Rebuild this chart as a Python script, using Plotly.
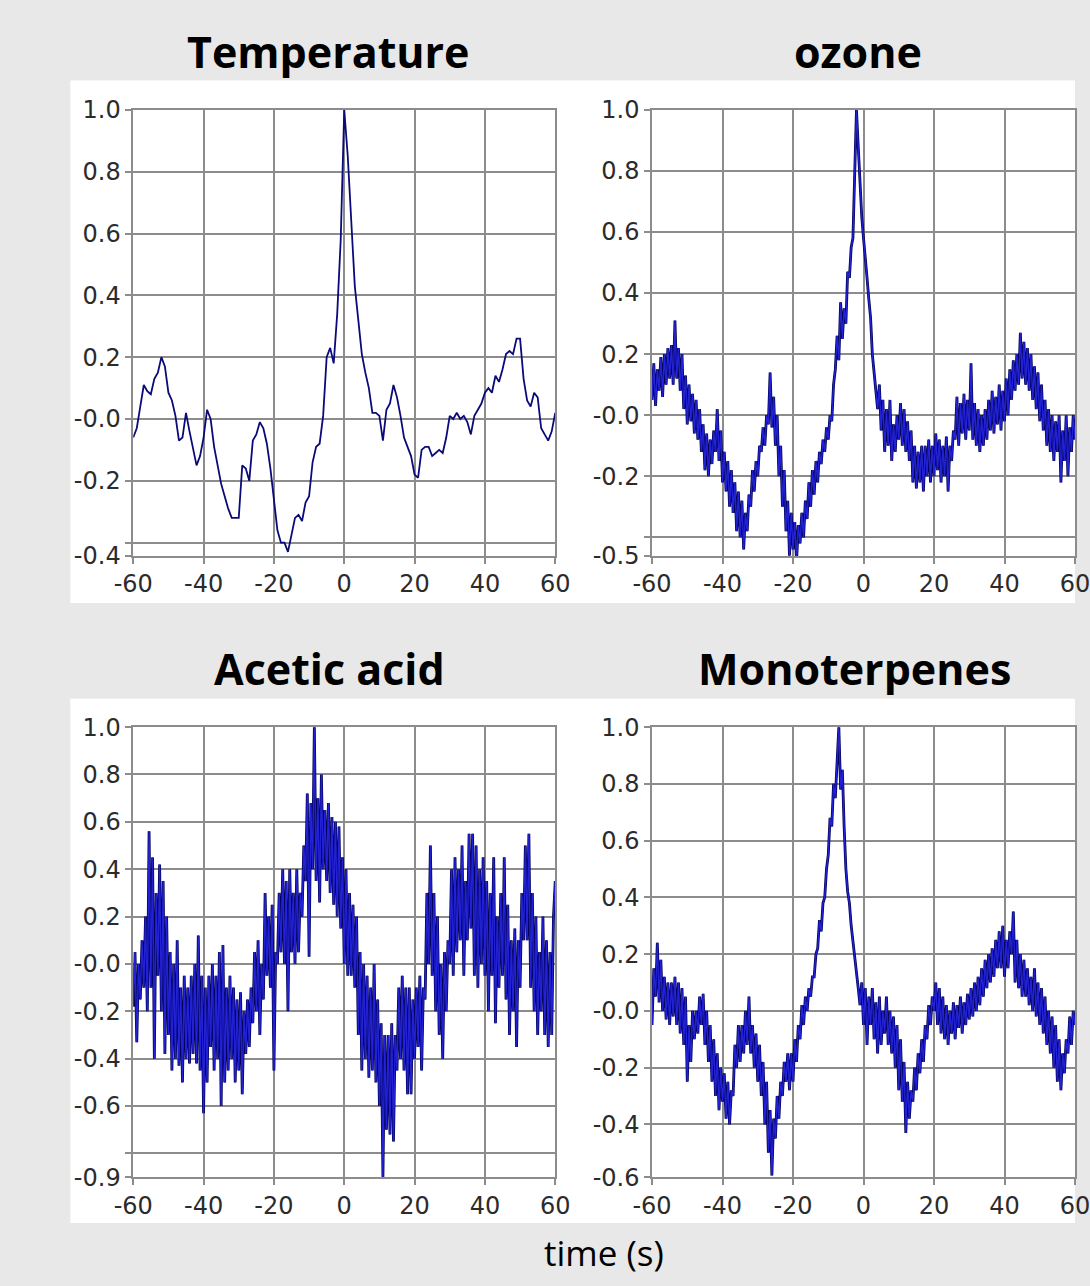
import plotly.graph_objects as go

# ---------------- data ----------------
panel_titles = ["Temperature", "ozone", "Acetic acid", "Monoterpenes"]
x_title = "time (s)"
x_tickvals = [-60, -40, -20, 0, 20, 40, 60]
x_ticktext = ["-60", "-40", "-20", "0", "20", "40", "60"]

# Temperature: one value per second, lag -60 .. 60 s
temperature = [
    -0.06, -0.03, 0.04, 0.11, 0.09, 0.08, 0.13, 0.15, 0.20, 0.17,
    0.085, 0.06, 0.01, -0.07, -0.06, 0.02, -0.04, -0.10, -0.15, -0.12,
    -0.06, 0.03, 0.00, -0.09, -0.15, -0.21, -0.25, -0.29, -0.32, -0.32,
    -0.32, -0.15, -0.16, -0.20, -0.07, -0.05, -0.01, -0.03, -0.08, -0.16,
    -0.27, -0.36, -0.40, -0.40, -0.43, -0.38, -0.32, -0.31, -0.33, -0.27,
    -0.25, -0.14, -0.09, -0.08, 0.01, 0.20, 0.23, 0.18, 0.34, 0.58,
    1.00, 0.85, 0.62, 0.43, 0.32, 0.21, 0.15, 0.10, 0.02, 0.02,
    0.01, -0.07, 0.03, 0.05, 0.11, 0.07, 0.01, -0.06, -0.09, -0.12,
    -0.18, -0.19, -0.10, -0.09, -0.09, -0.12, -0.11, -0.10, -0.11, -0.06,
    0.01, 0.00, 0.02, 0.00, 0.01, -0.01, -0.05, 0.01, 0.03, 0.05,
    0.085, 0.10, 0.085, 0.14, 0.12, 0.16, 0.21, 0.22, 0.21, 0.26,
    0.26, 0.13, 0.06, 0.04, 0.085, 0.07, -0.03, -0.05, -0.07, -0.04,
    0.02,
]

# Ozone: one value per 0.5 s, lag -60 .. 60 s
ozone = [
    0.05, 0.17, 0.03, 0.15, 0.08, 0.19, 0.06, 0.20, 0.10, 0.22,
    0.12, 0.23, 0.10, 0.31, 0.12, 0.22, 0.08, 0.20, 0.02, 0.13,
    -0.03, 0.10, -0.02, 0.07, -0.06, 0.05, -0.08, 0.02, -0.12, -0.03,
    -0.18, -0.06, -0.20, -0.08, -0.16, -0.05, -0.12, 0.02, -0.15, -0.05,
    -0.22, -0.12, -0.25, -0.15, -0.30, -0.18, -0.32, -0.22, -0.38, -0.25,
    -0.40, -0.28, -0.44, -0.32, -0.38, -0.26, -0.30, -0.18, -0.25, -0.15,
    -0.20, -0.10, -0.12, -0.04, -0.10, 0.00, -0.03, 0.14, -0.04, 0.06,
    -0.10, 0.00, -0.20, -0.10, -0.30, -0.18, -0.38, -0.28, -0.46, -0.32,
    -0.44, -0.35, -0.48, -0.36, -0.42, -0.32, -0.40, -0.28, -0.34, -0.22,
    -0.30, -0.18, -0.26, -0.15, -0.22, -0.12, -0.16, -0.08, -0.12, -0.04,
    -0.08, 0.00, -0.02, 0.10, 0.15, 0.26, 0.18, 0.37, 0.25, 0.35,
    0.30, 0.47, 0.45, 0.55, 0.58, 0.82, 1.00, 0.88, 0.75, 0.65,
    0.58, 0.50, 0.45, 0.38, 0.32, 0.20, 0.15, 0.08, 0.02, 0.10,
    -0.05, 0.05, -0.12, 0.02, -0.10, 0.05, -0.15, -0.03, -0.12, 0.00,
    -0.08, 0.04, -0.10, 0.02, -0.12, -0.02, -0.15, -0.05, -0.22, -0.10,
    -0.24, -0.12, -0.22, -0.10, -0.25, -0.10, -0.20, -0.08, -0.22, -0.10,
    -0.20, -0.06, -0.18, -0.08, -0.22, -0.10, -0.20, -0.07, -0.25, -0.10,
    -0.15, -0.05, -0.08, 0.06, -0.10, 0.04, -0.06, 0.07, -0.08, 0.05,
    -0.05, 0.17, -0.08, 0.04, -0.10, 0.02, -0.12, 0.00, -0.10, 0.02,
    -0.08, 0.05, -0.05, 0.08, -0.06, 0.06, -0.03, 0.10, -0.05, 0.08,
    -0.02, 0.12, 0.00, 0.15, 0.05, 0.18, 0.08, 0.20, 0.10, 0.27,
    0.12, 0.24, 0.10, 0.22, 0.08, 0.20, 0.05, 0.16, 0.02, 0.14,
    -0.02, 0.10, -0.05, 0.05, -0.10, 0.02, -0.12, 0.00, -0.15, -0.02,
    -0.12, 0.00, -0.22, -0.05, -0.15, 0.00, -0.20, -0.04, -0.12, 0.00,
    -0.08,
]

# Acetic acid: one value per 0.5 s, lag -60 .. 60 s
acetic_acid = [
    -0.18, 0.05, -0.33, 0.00, -0.15, 0.10, -0.10, 0.20, -0.20, 0.56,
    -0.10, 0.45, -0.40, 0.30, -0.05, 0.42, -0.20, 0.35, -0.38, 0.20,
    -0.30, 0.05, -0.45, 0.00, -0.40, 0.10, -0.43, -0.10, -0.50, -0.05,
    -0.40, -0.10, -0.42, -0.05, -0.38, 0.00, -0.42, 0.12, -0.45, -0.05,
    -0.63, -0.10, -0.50, -0.05, -0.35, 0.00, -0.45, -0.05, -0.40, 0.05,
    -0.60, 0.08, -0.50, -0.10, -0.45, -0.05, -0.40, -0.10, -0.50, -0.15,
    -0.45, -0.12, -0.55, -0.20, -0.38, -0.15, -0.35, -0.10, -0.25, 0.05,
    -0.20, 0.10, -0.30, 0.00, -0.15, 0.30, -0.05, 0.20, -0.10, 0.25,
    -0.45, 0.05, 0.00, 0.30, 0.05, 0.40, 0.00, 0.35, -0.20, 0.40,
    0.05, 0.30, 0.00, 0.40, 0.05, 0.30, 0.20, 0.50, 0.35, 0.72,
    0.03, 0.68, 0.40, 1.00, 0.35, 0.70, 0.26, 0.80, 0.40, 0.65,
    0.35, 0.68, 0.30, 0.62, 0.25, 0.60, 0.20, 0.58, 0.15, 0.45,
    0.00, 0.40, -0.05, 0.30, -0.05, 0.25, -0.10, 0.20, -0.30, 0.05,
    -0.45, 0.00, -0.40, -0.05, -0.48, -0.10, -0.45, 0.00, -0.50, -0.15,
    -0.60, -0.25, -0.90, -0.30, -0.70, -0.30, -0.72, -0.25, -0.75, -0.30,
    -0.45, -0.10, -0.40, -0.05, -0.45, -0.10, -0.55, -0.10, -0.55, -0.15,
    -0.40, -0.10, -0.35, -0.05, -0.45, -0.10, -0.15, 0.30, 0.00, 0.50,
    -0.05, 0.30, -0.20, 0.20, -0.30, 0.00, -0.40, 0.05, -0.20, 0.10,
    0.00, 0.40, -0.05, 0.45, 0.05, 0.40, 0.10, 0.50, -0.05, 0.35,
    0.10, 0.55, 0.15, 0.55, -0.05, 0.50, -0.10, 0.40, 0.00, 0.45,
    -0.05, 0.35, -0.20, 0.30, -0.05, 0.45, -0.25, 0.20, -0.10, 0.30,
    -0.05, 0.45, -0.15, 0.25, -0.30, 0.10, -0.20, 0.15, -0.35, 0.10,
    -0.10, 0.30, 0.10, 0.50, 0.10, 0.55, -0.10, 0.30, -0.20, 0.20,
    -0.30, 0.05, -0.20, 0.20, -0.30, 0.10, -0.35, 0.05, -0.30, 0.20,
    0.35,
]

# Monoterpenes: one value per 0.5 s, lag -60 .. 60 s
monoterpenes = [
    -0.05, 0.15, 0.05, 0.24, 0.03, 0.18, 0.00, 0.12, -0.03, 0.10,
    -0.05, 0.10, -0.02, 0.12, -0.05, 0.10, -0.08, 0.08, -0.12, 0.05,
    -0.25, -0.05, -0.18, 0.00, -0.10, 0.00, -0.08, 0.05, -0.05, 0.06,
    -0.12, 0.00, -0.18, -0.05, -0.25, -0.10, -0.30, -0.15, -0.35, -0.20,
    -0.32, -0.22, -0.38, -0.25, -0.40, -0.28, -0.30, -0.12, -0.20, -0.05,
    -0.18, -0.05, -0.15, 0.00, -0.12, 0.05, -0.15, -0.05, -0.20, -0.08,
    -0.25, -0.12, -0.30, -0.18, -0.40, -0.25, -0.50, -0.35, -0.58, -0.38,
    -0.45, -0.30, -0.38, -0.25, -0.30, -0.18, -0.25, -0.15, -0.28, -0.15,
    -0.25, -0.10, -0.18, -0.05, -0.10, 0.02, -0.05, 0.05, 0.00, 0.08,
    0.05, 0.12, 0.12, 0.20, 0.22, 0.32, 0.28, 0.38, 0.40, 0.50,
    0.55, 0.68, 0.65, 0.80, 0.75, 0.90, 1.00, 0.78, 0.85, 0.65,
    0.50, 0.42, 0.38, 0.30, 0.25, 0.20, 0.15, 0.08, 0.02, 0.10,
    -0.05, 0.08, -0.12, 0.05, -0.05, 0.08, -0.10, 0.03, -0.15, 0.05,
    -0.12, 0.00, -0.08, 0.05, -0.12, 0.00, -0.15, -0.02, -0.20, -0.05,
    -0.28, -0.10, -0.32, -0.18, -0.43, -0.25, -0.38, -0.28, -0.32, -0.20,
    -0.28, -0.15, -0.22, -0.10, -0.18, -0.05, -0.10, 0.02, -0.05, 0.05,
    0.00, 0.10, -0.05, 0.08, -0.08, 0.05, -0.10, 0.02, -0.12, 0.00,
    -0.08, 0.03, -0.10, 0.02, -0.06, 0.05, -0.08, 0.03, -0.05, 0.06,
    -0.03, 0.08, -0.02, 0.10, 0.00, 0.12, 0.02, 0.15, 0.05, 0.18,
    0.08, 0.20, 0.10, 0.22, 0.12, 0.25, 0.15, 0.28, 0.15, 0.30,
    0.12, 0.25, 0.15, 0.28, 0.20, 0.35, 0.10, 0.25, 0.08, 0.20,
    0.05, 0.18, 0.05, 0.15, 0.02, 0.12, 0.00, 0.15, -0.02, 0.10,
    -0.05, 0.08, -0.08, 0.05, -0.12, 0.00, -0.15, -0.02, -0.20, -0.05,
    -0.25, -0.10, -0.28, -0.15, -0.22, -0.10, -0.15, -0.02, -0.12, 0.00,
    -0.05,
]

# y-axis tick definitions (bottom of each axis carries its own label)
y_ranges = [[-0.443, 1.0], [-0.461, 1.0], [-0.9, 1.0], [-0.586, 1.0]]
y_tickvals = [
    [-0.443, -0.4, -0.2, 0.0, 0.2, 0.4, 0.6, 0.8, 1.0],
    [-0.461, -0.4, -0.2, 0.0, 0.2, 0.4, 0.6, 0.8, 1.0],
    [-0.9, -0.8, -0.6, -0.4, -0.2, 0.0, 0.2, 0.4, 0.6, 0.8, 1.0],
    [-0.586, -0.4, -0.2, 0.0, 0.2, 0.4, 0.6, 0.8, 1.0],
]
y_ticktext = [
    ["-0.4", "", "-0.2", "-0.0", "0.2", "0.4", "0.6", "0.8", "1.0"],
    ["-0.5", "", "-0.2", "-0.0", "0.2", "0.4", "0.6", "0.8", "1.0"],
    ["-0.9", "", "-0.6", "-0.4", "-0.2", "-0.0", "0.2", "0.4", "0.6", "0.8", "1.0"],
    ["-0.6", "-0.4", "-0.2", "-0.0", "0.2", "0.4", "0.6", "0.8", "1.0"],
]

# ---------------- figure ----------------
W, H = 1090, 1286


def px(x):
    return x / W


def py(y):
    return 1 - y / H


x_temp = [-60 + i for i in range(len(temperature))]
x_half = [-60 + 0.5 * i for i in range(len(ozone))]

fig = go.Figure()


def add_series(xs, ys, n, layers):
    for col, lw in layers:
        fig.add_trace(go.Scatter(
            x=xs, y=ys, mode="lines", line=dict(color=col, width=lw),
            xaxis="x" + n, yaxis="y" + n, showlegend=False, hoverinfo="skip",
        ))


noisy_layers = [("#00005a", 2.8), ("#2222d4", 1.4)]
add_series(x_temp, temperature, "", [("#0a0a78", 1.8)])
add_series(x_half, ozone, "2", noisy_layers)
add_series(x_half, acetic_acid, "3", noisy_layers)
add_series(x_half, monoterpenes, "4", noisy_layers)

x_domains = [[px(117), px(553)], [px(653), 1.0], [px(117), px(553)], [px(653), 1.0]]
y_domains = [[py(554), py(98)], [py(554), py(98)], [py(1189), py(729)], [py(1189), py(729)]]

grid_col = "#8c8c8c"
tick_font = dict(family="DejaVu Sans", size=24, color="#2b2b2b")

layout = dict(
    width=W, height=H, margin=dict(l=0, r=0, t=0, b=0),
    paper_bgcolor="#e8e8e8", plot_bgcolor="white",
    showlegend=False, hovermode=False,
)
for i in range(4):
    n = "" if i == 0 else str(i + 1)
    layout["xaxis" + n] = dict(
        domain=x_domains[i], range=[-60, 60], anchor="y" + n,
        tickmode="array", tickvals=x_tickvals, ticktext=x_ticktext,
        showgrid=True, gridcolor=grid_col, gridwidth=1.5,
        showline=True, linecolor=grid_col, linewidth=1.5, mirror=True,
        ticks="outside", ticklen=6, tickcolor=grid_col, tickwidth=1.5,
        zeroline=False, tickfont=tick_font, fixedrange=True,
        ticklabeloverflow="allow",
    )
    layout["yaxis" + n] = dict(
        domain=y_domains[i], range=y_ranges[i], anchor="x" + n,
        tickmode="array", tickvals=y_tickvals[i], ticktext=y_ticktext[i],
        showgrid=True, gridcolor=grid_col, gridwidth=1.5,
        showline=True, linecolor=grid_col, linewidth=1.5, mirror=True,
        ticks="outside", ticklen=6, tickcolor=grid_col, tickwidth=1.5,
        zeroline=False, tickfont=tick_font, fixedrange=True,
    )

fig.update_layout(**layout)

# white panel backgrounds
for (y0, y1) in [(68, 602), (700, 1236)]:
    fig.add_shape(type="rect", xref="paper", yref="paper",
                  x0=px(52), x1=1.0, y0=py(y1), y1=py(y0),
                  fillcolor="white", line=dict(width=0), layer="below")

title_font = dict(family="Open Sans", size=43, color="black")
title_pos = [(319, 38), (866, 38), (320, 669), (862, 669)]
for t, (tx, ty) in zip(panel_titles, title_pos):
    fig.add_annotation(text="<b>" + t + "</b>", x=px(tx), y=py(ty),
                       xref="paper", yref="paper", xanchor="center", yanchor="middle",
                       showarrow=False, font=title_font)

fig.add_annotation(text=x_title, x=px(603), y=py(1266), xref="paper", yref="paper",
                   xanchor="center", yanchor="middle", showarrow=False,
                   font=dict(family="Open Sans", size=35, color="black"))

fig.write_html("out.html")
